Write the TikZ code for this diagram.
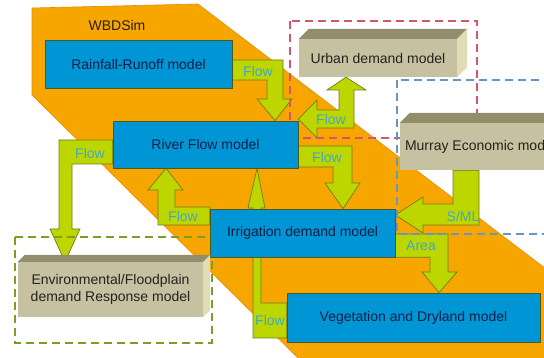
\documentclass[tikz,border=0pt]{standalone}
\usepackage{fontspec}
\setmainfont{Liberation Sans}
\usetikzlibrary{positioning}

\definecolor{wbdorange}{RGB}{247,166,0}
\definecolor{wbdedge}{RGB}{232,140,0}
\definecolor{wbdtext}{RGB}{40,30,15}
\definecolor{modelblue}{RGB}{0,150,214}
\definecolor{modelline}{RGB}{70,90,40}
\definecolor{modeltext}{RGB}{15,30,70}
\definecolor{tanfront}{RGB}{198,193,160}
\definecolor{tantop}{RGB}{146,142,108}
\definecolor{tanside}{RGB}{224,221,182}
\definecolor{tantext}{RGB}{35,35,30}
\definecolor{flowgreen}{RGB}{190,214,0}
\definecolor{flowline}{RGB}{110,125,20}
\definecolor{flowtext}{RGB}{60,170,200}
\definecolor{zonered}{RGB}{214,85,110}
\definecolor{zoneblue}{RGB}{100,150,200}
\definecolor{zonegreen}{RGB}{120,160,40}

\pgfdeclarelayer{backdrop}
\pgfdeclarelayer{links}
\pgfdeclarelayer{zones}
\pgfsetlayers{backdrop,links,zones,main}

\tikzset{
  every node/.style={font=\fontsize{14}{17.5}\selectfont},
  model/.style={rectangle, draw=modelline, fill=modelblue, line width=0.7pt, text=modeltext, inner sep=0pt},
  demand/.style={rectangle, fill=tanfront, text=tantext, inner sep=0pt, align=center},
  flowarrow/.style={fill=flowgreen, draw=flowline, line width=0.7pt, line join=miter},
  flowlabel/.style={text=flowtext, inner sep=0pt},
  zone/.style={line width=2.2pt, dash pattern=on 8pt off 5pt},
}

% top and side faces of a demand box
\newcommand{\boxfaces}[2]{%
  \fill[tantop] (#1.north west) -- ++(#2,-#2) -- ([shift={(#2,-#2)}]#1.north east) -- (#1.north east) -- cycle;
  \fill[tanside] (#1.north east) -- ++(#2,-#2) -- ([shift={(#2,-#2)}]#1.south east) -- (#1.south east) -- cycle;
}

\begin{document}
\begin{tikzpicture}[x=1pt,y=-1pt]
\useasboundingbox (0,0) rectangle (544,358);
\clip (0,0) rectangle (544,358);

% WBDSim area
\begin{pgfonlayer}{backdrop}
\filldraw[fill=wbdorange, draw=wbdedge, line width=0.6pt] (32,8) -- (198,4) -- (600,310) -- (600,362) -- (302,362) -- (32,95) -- cycle;
\end{pgfonlayer}
\node[text=wbdtext] (wbd) at (117,25) {WBDSim};

% Models
\node[model, minimum width=187pt, minimum height=48pt] (rain) at (138.5,64) {Rainfall-Runoff model};
\node[model, minimum width=185pt, minimum height=47pt] (river) at (205.5,144.5) {River Flow model};
\node[model, minimum width=185pt, minimum height=48pt] (irr) at (302.5,233) {Irrigation demand model};
\node[model, minimum width=253pt, minimum height=49pt] (veg) at (413.5,317.5) {Vegetation and Dryland model};

% Demand boxes
\node[demand, minimum width=158pt, minimum height=38pt] (urban) at (378,58) {Urban demand model};
\node[demand, minimum width=161pt, minimum height=47pt] (murray) at (480.5,146.5) {Murray Economic model};
\node[demand, minimum width=185pt, minimum height=55pt] (env) at (110.5,289.5) {Environmental/Floodplain\\demand Response model};
\boxfaces{urban}{10}
\boxfaces{murray}{10}
\boxfaces{env}{7}

% Zones
\begin{pgfonlayer}{zones}
\draw[zone, zonered] (290,21) rectangle (477,138);
\draw[zone, zoneblue] (397,80) rectangle (600,234);
\draw[zone, zonegreen] (15,237) rectangle (212,343);
\end{pgfonlayer}

% Arrows
\begin{pgfonlayer}{links}
\draw[flowarrow] (rain.east |- 0,60) -- (283,60) -- (283,99) -- (292,99) -- (275,0 |- river.north) -- (257,99) -- (267,99) -- (267,80) -- (rain.east |- 0,80) -- cycle;
\draw[flowarrow] (river.east |- 0,119) -- (317,100) -- (317,110) -- (339,110) -- (339,90) -- (327,90) -- (346,0 |- urban.south) -- (366,90) -- (354,90) -- (354,128) -- (317,128) -- (317,138) -- cycle;
\draw[flowarrow] (river.east |- 0,146) -- (352,146) -- (352,183) -- (360,183) -- (343,0 |- irr.north) -- (325,183) -- (333,183) -- (333,167) -- (river.east |- 0,167) -- cycle;
\draw[flowarrow] (river.west |- 0,140) -- (59,140) -- (59,229) -- (50,229) -- (65,0 |- env.north) -- (80,229) -- (72,229) -- (72,164) -- (river.west |- 0,164) -- cycle;
\draw[flowarrow] (irr.west |- 0,207) -- (175,207) -- (175,190) -- (183,190) -- (166,0 |- river.south) -- (148,190) -- (158,190) -- (158,225) -- (irr.west |- 0,225) -- cycle;
\draw[flowarrow] (veg.west |- 0,303) -- (261,303) -- (261,208) -- (265,208) -- (257,0 |- river.south) -- (248,208) -- (253,208) -- (253,338) -- (veg.west |- 0,338) -- cycle;
\draw[flowarrow] (irr.east |- 0,234) -- (448,234) -- (448,272) -- (457,272) -- (439,0 |- veg.north) -- (422,272) -- (430,272) -- (430,0 |- irr.south) -- (irr.south east) -- cycle;
\draw[flowarrow] (453,0 |- murray.south) -- (479,0 |- murray.south) -- (479,225) -- (423,225) -- (423,233) -- (irr.east |- 0,215) -- (423,197) -- (423,204) -- (453,204) -- cycle;
\end{pgfonlayer}

% Arrow labels
\node[flowlabel] (frain) at (258,71) {Flow};
\node[flowlabel] (furban) at (331,119) {Flow};
\node[flowlabel] (firr) at (327,157) {Flow};
\node[flowlabel] (fenv) at (90,153) {Flow};
\node[flowlabel] (fup) at (183,216) {Flow};
\node[flowlabel] (fveg) at (270,320) {Flow};
\node[flowlabel] (farea) at (421,246) {Area};
\node[flowlabel] (fsml) at (463,216) {S/ML};

\end{tikzpicture}
\end{document}
